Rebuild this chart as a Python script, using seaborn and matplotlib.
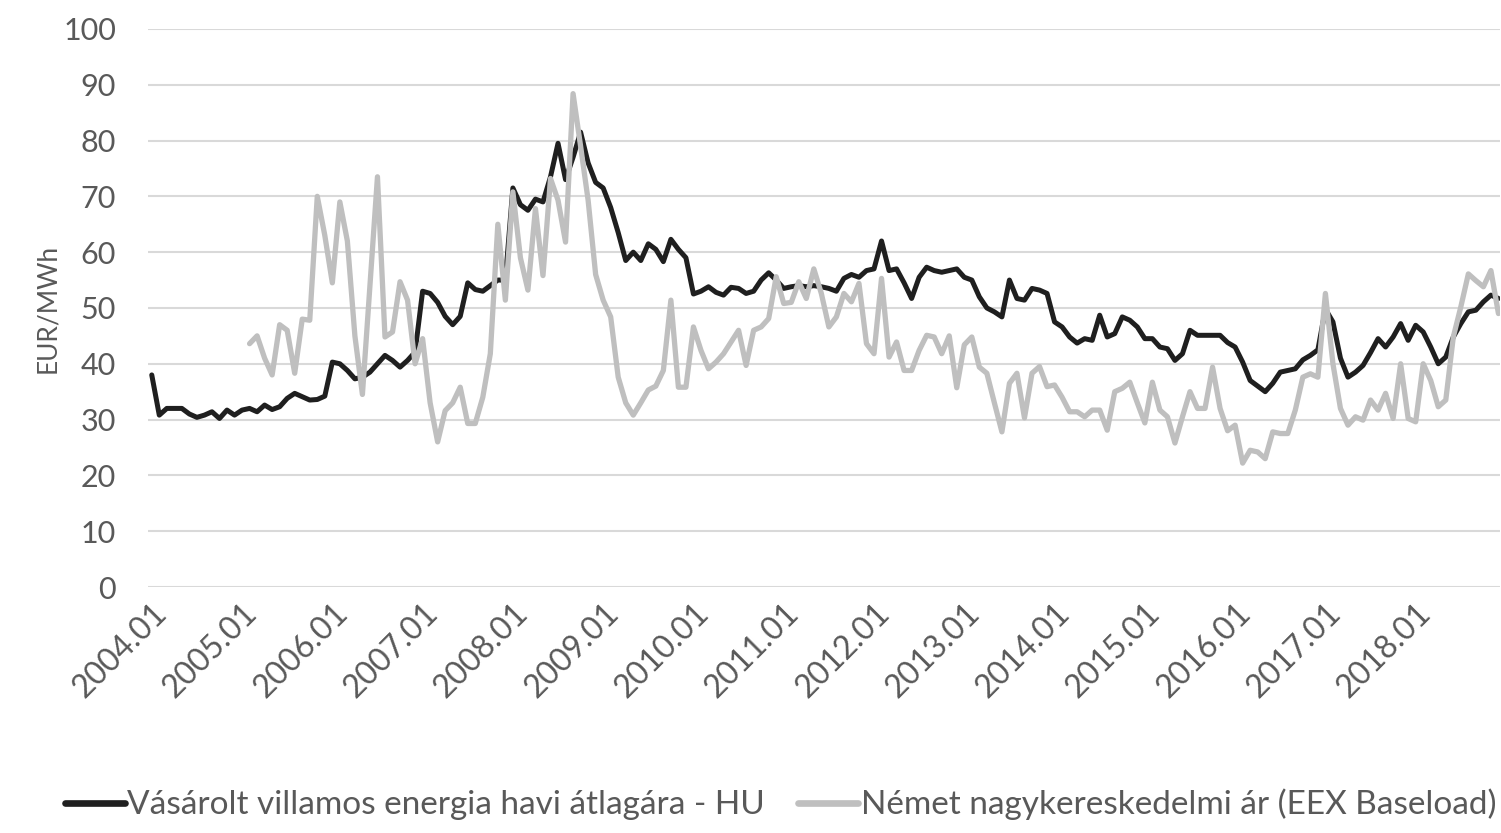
import numpy as np
import pandas as pd
import matplotlib
matplotlib.use("Agg")
import matplotlib.pyplot as plt
import seaborn as sns

# Havi adatok 2004.01 - 2018.12 (EUR/MWh)
honapok = pd.period_range("2004-01", "2018-12", freq="M").strftime("%Y.%m").tolist()

hu_ar = [
    38.0, 30.8, 32.0, 32.0, 32.0, 31.0, 30.4, 30.8, 31.4, 30.2, 31.7, 30.8,
    31.7, 32.0, 31.4, 32.6, 31.8, 32.3, 33.8, 34.7, 34.1, 33.5, 33.6, 34.2,
    40.3, 40.0, 38.8, 37.3, 37.6, 38.5, 40.0, 41.5, 40.6, 39.4, 40.6, 42.1,
    53.0, 52.6, 51.0, 48.5, 47.0, 48.5, 54.5, 53.3, 53.0, 54.0, 55.0, 55.0,
    71.5, 68.5, 67.5, 69.5, 69.0, 73.5, 79.5, 73.0, 77.0, 81.5, 76.0, 72.5,
    71.5, 68.0, 63.5, 58.5, 60.0, 58.5, 61.5, 60.5, 58.3, 62.3, 60.5, 59.0,
    52.5, 53.0, 53.8, 52.8, 52.3, 53.7, 53.5, 52.6, 53.0, 55.0, 56.3, 55.0,
    53.5, 53.8, 54.0, 53.8, 54.0, 53.8, 53.5, 53.0, 55.3, 56.0, 55.5, 56.7,
    57.0, 62.0, 56.7, 57.0, 54.5, 51.7, 55.5, 57.3, 56.7, 56.4, 56.7, 57.0,
    55.5, 55.0, 52.0, 50.0, 49.3, 48.4, 55.0, 51.7, 51.4, 53.5, 53.2, 52.6,
    47.5, 46.6, 44.8, 43.7, 44.5, 44.2, 48.7, 44.8, 45.4, 48.4, 47.8, 46.6,
    44.5, 44.5, 43.0, 42.7, 40.6, 41.8, 46.0, 45.1, 45.1, 45.1, 45.1, 43.8,
    43.0, 40.3, 37.0, 36.0, 35.0, 36.5, 38.5, 38.8, 39.1, 40.7, 41.5, 42.5,
    49.8, 47.5, 41.0, 37.6, 38.5, 39.7, 42.0, 44.5, 43.0, 44.8, 47.2, 44.2,
    46.9, 45.7, 43.0, 40.0, 41.2, 44.8, 47.2, 49.3, 49.6, 51.1, 52.3, 51.7,
]

eex_ar = [
    np.nan, np.nan, np.nan, np.nan, np.nan, np.nan, np.nan, np.nan, np.nan, np.nan, np.nan, np.nan,
    np.nan, 43.6, 45.0, 41.0, 38.0, 47.0, 46.0, 38.3, 48.0, 47.8, 70.0, 63.0,
    54.5, 69.0, 62.0, 45.0, 34.5, 54.0, 73.5, 44.8, 45.7, 54.7, 51.4, 40.0,
    44.5, 33.0, 26.0, 31.6, 33.0, 35.8, 29.3, 29.3, 34.0, 41.8, 65.0, 51.4,
    70.8, 59.0, 53.2, 67.8, 55.8, 73.2, 69.3, 61.8, 88.4, 79.0, 69.3, 56.0,
    51.4, 48.4, 37.6, 33.0, 30.8, 33.0, 35.3, 36.0, 38.8, 51.4, 35.8, 35.8,
    46.6, 42.4, 39.1, 40.3, 41.8, 43.9, 46.0, 39.7, 46.0, 46.6, 48.1, 55.6,
    50.8, 51.0, 54.7, 51.7, 57.0, 52.6, 46.6, 48.4, 52.6, 51.1, 54.4, 43.6,
    41.8, 55.3, 41.2, 43.9, 38.8, 38.8, 42.4, 45.1, 44.8, 41.8, 45.0, 35.7,
    43.4, 44.8, 39.4, 38.3, 33.0, 27.8, 36.5, 38.3, 30.3, 38.3, 39.5, 35.9,
    36.2, 34.0, 31.4, 31.4, 30.5, 31.7, 31.7, 28.1, 35.0, 35.6, 36.7, 33.0,
    29.4, 36.7, 31.7, 30.5, 25.8, 30.5, 35.0, 32.0, 32.0, 39.4, 32.0, 28.0,
    29.0, 22.2, 24.5, 24.2, 23.0, 27.8, 27.5, 27.5, 31.7, 37.6, 38.2, 37.6,
    52.6, 40.0, 32.0, 29.0, 30.5, 29.9, 33.5, 31.7, 34.7, 30.2, 40.0, 30.2,
    29.6, 40.0, 37.0, 32.3, 33.5, 44.8, 50.2, 56.1, 54.9, 53.8, 56.7, 49.0,
]

ev_cimkek = ["2004.01", "2005.01", "2006.01", "2007.01", "2008.01",
             "2009.01", "2010.01", "2011.01", "2012.01", "2013.01",
             "2014.01", "2015.01", "2016.01", "2017.01", "2018.01"]

nev_hu  = "Vásárolt villamos energia havi átlagára - HU"
nev_eex = "Német nagykereskedelmi ár (EEX Baseload)"

df = pd.DataFrame({"honap": honapok, "hu": hu_ar, "eex": eex_ar})
df["idx"] = np.arange(len(df))

sns.set_style("white")
plt.rcParams["font.family"] = ["Lato", "DejaVu Sans"]
szoveg_szin = "#595959"

fig = plt.figure(figsize=(15.01, 8.33), dpi=100)
ax = fig.add_axes([0.0986, 0.2953, 0.9007, 0.670])

sns.lineplot(data=df, x="idx", y="hu", ax=ax, color="#1f1f1f", linewidth=3.6, label=nev_hu)
sns.lineplot(data=df, x="idx", y="eex", ax=ax, color="#bfbfbf", linewidth=3.8, label=nev_eex)

# tengelyek
ax.set_ylim(0, 100)
ax.set_yticks(range(0, 101, 10))
ax.set_xlim(-0.5, 179.2)
tick_pos = [honapok.index(c) for c in ev_cimkek]
ax.set_xticks(tick_pos)
ax.set_xticklabels(ev_cimkek, rotation=45, ha="right", rotation_mode="anchor")
ax.tick_params(axis="x", length=0, labelsize=23, colors=szoveg_szin, pad=8)
ax.tick_params(axis="y", length=0, labelsize=22, colors=szoveg_szin, pad=23)
ax.set_xlabel("")
ax.set_ylabel("EUR/MWh", fontsize=19, color=szoveg_szin, labelpad=2)

ax.grid(axis="y", color="#d9d9d9", linewidth=1.5)
ax.set_axisbelow(True)
for s in ax.spines.values():
    s.set_visible(False)

ax.get_legend().remove()
h, l = ax.get_legend_handles_labels()
leg = fig.legend(h, l, loc="center", bbox_to_anchor=(0.52, 0.034), ncol=2, frameon=False,
                 fontsize=24, handlelength=1.8, handletextpad=0.08, columnspacing=1.0)
for t in leg.get_texts():
    t.set_color(szoveg_szin)
for ln in leg.get_lines():
    ln.set_linewidth(4.8)

fig.savefig("out.png", dpi=100)
